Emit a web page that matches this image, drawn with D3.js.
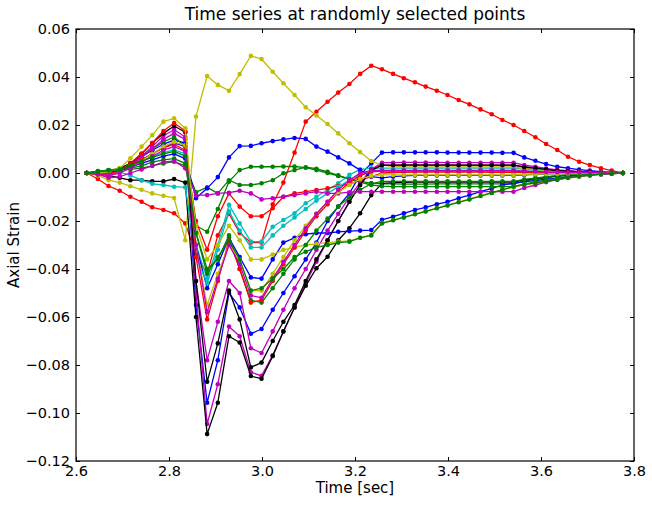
<!DOCTYPE html>
<html><head><meta charset="utf-8">
<script src="https://cdn.jsdelivr.net/npm/d3@7"></script>
<style>body{margin:0;background:#fff}svg{display:block}text{font-family:"DejaVu Sans",sans-serif}</style>
</head><body><svg id="c" width="652" height="505"></svg>
<script>
const times = [2.623,2.647,2.670,2.694,2.717,2.741,2.764,2.788,2.811,2.835,2.858,2.882,2.905,2.929,2.952,2.976,2.999,3.023,3.046,3.070,3.094,3.117,3.141,3.164,3.188,3.211,3.235,3.258,3.282,3.305,3.329,3.352,3.376,3.399,3.423,3.446,3.470,3.494,3.517,3.541,3.564,3.588,3.611,3.635,3.658,3.682,3.705,3.729,3.752,3.776];
const xTicks = [2.6,2.8,3.0,3.2,3.4,3.6,3.8];
const yTicks = [-0.12,-0.10,-0.08,-0.06,-0.04,-0.02,0.00,0.02,0.04,0.06];

const blueDeep = [0,0.0002,0.0005,0.0015,0.004,0.0068,0.0095,0.012,0.0137,0.0125, -0.055,-0.0957,-0.078,-0.050,-0.056,-0.067,-0.065,-0.057,-0.050,-0.043, -0.036,-0.029,-0.020,-0.014,-0.0085,-0.0008,0.004,0.0085,0.0086,0.0086, 0.0086,0.0086,0.0086,0.0085,0.0085,0.0085,0.0085,0.0085,0.0084,0.0084, 0.0065,0.0051,0.0037,0.0026,0.002,0.0014,0.001,0.0006,0.0003,0];
const greenA = [0,0.0005,0.001,0.002,0.004,0.007,0.01,0.013,0.015,0.011, -0.022,-0.0245,-0.015,-0.0036,0.0012,0.0026,0.0026,0.0026,0.0027,0.0027, 0.0022,0.0012,0.0,-0.0012,-0.0025,-0.0035,-0.0042,-0.0045,-0.0045,-0.0046, -0.0046,-0.0046,-0.0045,-0.0045,-0.0045,-0.0045,-0.0045,-0.0045,-0.0045,-0.0045, -0.0034,-0.0027,-0.002,-0.0014,-0.0011,-0.0007,-0.0005,-0.0003,-0.0002,0];
const redBig = [0,-0.0025,-0.0054,-0.0074,-0.0099,-0.012,-0.0143,-0.0154,-0.0168,-0.021, -0.034,-0.042,-0.026,-0.017,-0.025,-0.029,-0.029,-0.013,-0.004,0.0085, 0.0214,0.0255,0.0297,0.0335,0.0371,0.0413,0.0447,0.0432,0.0413,0.0395, 0.0378,0.036,0.0343,0.0325,0.0304,0.0286,0.0265,0.0245,0.0221,0.02, 0.0175,0.0149,0.0121,0.0096,0.0068,0.0047,0.0033,0.002,0.001,0];
const cyanA = [0,0.0008,0.0012,0.0015,0.003,0.005,0.007,0.0085,0.0096,0.008, -0.03,-0.044,-0.030,-0.0133,-0.021,-0.0286,-0.0286,-0.0224,-0.0196,-0.0168, -0.0126,-0.0099,-0.007,-0.0043,-0.0008,0.0015,0.002,0.002,0.002,0.002, 0.002,0.002,0.002,0.002,0.002,0.002,0.002,0.002,0.002,0.002, 0.0015,0.0012,0.0009,0.0006,0.0005,0.0003,0.0002,0.0001,0.0001,0];
const magentaDeep = [0,-0.0005,-0.001,0.0005,0.003,0.0065,0.01,0.014,0.0165,0.014, -0.05,-0.1046,-0.088,-0.064,-0.068,-0.083,-0.0845,-0.076,-0.066,-0.056, -0.046,-0.037,-0.028,-0.020,-0.012,-0.005,0.0015,0.0043,0.0043,0.0044, 0.0044,0.0044,0.0044,0.0043,0.0043,0.0043,0.0043,0.0043,0.0043,0.0043, 0.0033,0.0026,0.0019,0.0013,0.001,0.0007,0.0005,0.0003,0.0002,0];
const yellowBig = [0,-0.001,-0.003,-0.004,-0.0055,-0.007,-0.0085,-0.0095,-0.0104,-0.028, 0.0235,0.0404,0.0367,0.0343,0.0412,0.0488,0.0475,0.0422,0.0374,0.0325, 0.0274,0.024,0.0204,0.0165,0.0124,0.0087,0.005,0.0033,0.0028,0.0026, 0.0025,0.0025,0.0025,0.0025,0.0025,0.0025,0.0025,0.0025,0.0025,0.0025, 0.0019,0.0015,0.0011,0.0008,0.0006,0.0004,0.0003,0.0002,0.0001,0];
const blackDeep = [0,-0.0005,-0.001,-0.002,-0.003,-0.003,-0.0035,-0.0035,-0.0025,-0.004, -0.06,-0.1088,-0.0957,-0.068,-0.0706,-0.0846,-0.0857,-0.0763,-0.066,-0.056, -0.047,-0.0397,-0.0349,-0.028,-0.023,-0.0168,-0.0092,-0.0043,-0.004,-0.0039, -0.0038,-0.0038,-0.0038,-0.0038,-0.0038,-0.0038,-0.0038,-0.0038,-0.0038,-0.0038, -0.0029,-0.0023,-0.0017,-0.0012,-0.0009,-0.0006,-0.0005,-0.0003,-0.0001,0];
const blueMid = [0,0.0003,0.0006,0.0012,0.003,0.0055,0.008,0.0105,0.0125,0.011, -0.03,-0.048,-0.038,-0.027,-0.035,-0.0435,-0.044,-0.036,-0.029,-0.027, -0.0255,-0.025,-0.025,-0.0245,-0.0242,-0.024,-0.0238,-0.0195,-0.0182,-0.0168, -0.0154,-0.0143,-0.013,-0.012,-0.0105,-0.0092,-0.0078,-0.0064,-0.005,-0.0043, -0.0036,-0.0032,-0.0026,-0.0022,-0.0015,-0.001,-0.0007,-0.0004,-0.0001,0];
const greenB = [0,0.0008,0.0012,0.0012,0.0015,0.002,0.003,0.004,0.0047,0.003, -0.008,-0.006,-0.0085,-0.003,-0.005,-0.005,-0.0043,-0.003,-0.0001,0.0012, 0.0024,0.0018,0.0005,-0.001,-0.0025,-0.0038,-0.005,-0.0055,-0.0057,-0.0057, -0.0057,-0.0057,-0.0057,-0.0057,-0.0057,-0.0057,-0.0057,-0.0057,-0.0057,-0.0057, -0.0045,-0.0037,-0.003,-0.0024,-0.0018,-0.0012,-0.0008,-0.0005,-0.0002,0];
const redMod = [0,-0.0003,0.0,0.001,0.003,0.0055,0.008,0.0105,0.012,0.0095, -0.02,-0.032,-0.018,-0.0085,-0.014,-0.018,-0.018,-0.0147,-0.0099,-0.0085, -0.0078,-0.0071,-0.0064,-0.0054,-0.0046,-0.003,-0.0015,0.0,0.0002,0.0003, 0.0004,0.0004,0.0004,0.0004,0.0004,0.0004,0.0004,0.0003,0.0003,0.0003, 0.0002,0.0002,0.0001,0.0001,0.0001,0.0,0.0,0.0,0.0,0];
const cyanB = [0,0.0005,0.001,0.0005,-0.001,-0.003,-0.0045,-0.005,-0.0057,-0.006, -0.035,-0.046,-0.032,-0.016,-0.024,-0.031,-0.031,-0.026,-0.022,-0.0185, -0.015,-0.0115,-0.0085,-0.0058,-0.003,-0.0005,0.001,0.0012,0.0012,0.0012, 0.0012,0.0012,0.0012,0.0012,0.0012,0.0012,0.0012,0.0012,0.0012,0.0012, 0.0009,0.0007,0.0005,0.0004,0.0003,0.0002,0.0001,0.0001,0.0,0];
const magentaB = [0,0.0,-0.0005,0.001,0.0035,0.007,0.011,0.0155,0.018,0.015, -0.045,-0.078,-0.062,-0.045,-0.050,-0.073,-0.075,-0.066,-0.057,-0.048, -0.040,-0.032,-0.024,-0.017,-0.010,-0.004,0.0015,0.0033,0.0033,0.0034, 0.0034,0.0034,0.0034,0.0034,0.0033,0.0033,0.0033,0.0033,0.0033,0.0033, 0.0025,0.002,0.0015,0.001,0.0008,0.0005,0.0004,0.0002,0.0001,0];
const yellowLow = [0,-0.0005,-0.001,0.0,0.0025,0.005,0.008,0.011,0.013,0.0115, -0.022,-0.036,-0.030,-0.022,-0.028,-0.036,-0.036,-0.034,-0.032,-0.031, -0.030,-0.0295,-0.029,-0.0286,-0.0283,-0.027,-0.0258,-0.0208,-0.0196,-0.0184, -0.0171,-0.0159,-0.0146,-0.0134,-0.0121,-0.0108,-0.0095,-0.0082,-0.007,-0.0058, -0.0049,-0.0042,-0.0035,-0.0028,-0.0021,-0.0015,-0.001,-0.0006,-0.0003,0];
const blackB = [0,0.0,0.0005,0.0015,0.004,0.008,0.0125,0.0165,0.0196,0.017, -0.045,-0.087,-0.071,-0.049,-0.061,-0.081,-0.079,-0.070,-0.062,-0.055, -0.045,-0.036,-0.028,-0.020,-0.012,-0.005,0.001,0.0033,0.0033,0.0033, 0.0033,0.0033,0.0033,0.0033,0.0033,0.0033,0.0033,0.0033,0.0033,0.0033, 0.0025,0.002,0.0015,0.001,0.0008,0.0005,0.0004,0.0002,0.0001,0];
const blueUpper = [0,0.0003,0.0005,0.001,0.0025,0.004,0.0055,0.007,0.008,0.006, -0.0105,-0.0064,-0.0017,0.0065,0.0112,0.0113,0.0124,0.0133,0.014,0.0146, 0.0142,0.011,0.0089,0.0065,0.004,0.0012,-0.0015,-0.002,-0.0015,-0.0012, -0.001,-0.001,-0.001,-0.001,-0.001,-0.001,-0.001,-0.001,-0.001,-0.001, -0.0008,-0.0006,-0.0004,-0.0003,-0.0002,-0.0002,-0.0001,-0.0001,0,0];
const greenC = [0,0.0005,0.001,0.0012,0.002,0.003,0.0045,0.0055,0.006,0.004, -0.025,-0.040,-0.036,-0.026,-0.040,-0.053,-0.054,-0.048,-0.042,-0.036, -0.030,-0.024,-0.019,-0.014,-0.010,-0.007,-0.0045,-0.0035,-0.0035,-0.0035, -0.0035,-0.0035,-0.0035,-0.0035,-0.0035,-0.0035,-0.0035,-0.0035,-0.0035,-0.0035, -0.0027,-0.0021,-0.0015,-0.0011,-0.0008,-0.0006,-0.0004,-0.0002,-0.0001,0];
const redC = [0,0.0,-0.0005,0.001,0.004,0.008,0.0125,0.0175,0.0208,0.0175, -0.035,-0.061,-0.045,-0.028,-0.040,-0.054,-0.053,-0.045,-0.038,-0.031, -0.024,-0.018,-0.013,-0.008,-0.004,-0.001,0.0005,0.0008,0.0008,0.0008, 0.0008,0.0008,0.0008,0.0008,0.0008,0.0008,0.0008,0.0008,0.0008,0.0008, 0.0006,0.0005,0.0004,0.0003,0.0002,0.0002,0.0001,0.0001,0,0];
const magentaFlat = [0,-0.0005,-0.002,-0.0015,0.0,0.0015,0.003,0.0045,0.005,0.002, -0.0092,-0.0092,-0.0085,-0.0082,-0.0074,-0.0085,-0.011,-0.0105,-0.0099,-0.0092, -0.0085,-0.0078,-0.0085,-0.0085,-0.008,-0.0078,-0.0078,-0.0078,-0.0078,-0.0078, -0.0078,-0.0078,-0.0078,-0.0078,-0.0078,-0.0078,-0.0078,-0.0078,-0.0078,-0.0078, -0.0062,-0.005,-0.0038,-0.0028,-0.002,-0.0014,-0.001,-0.0006,-0.0003,0];
const yellowB = [0,0.0,0.0005,0.002,0.0061,0.011,0.0158,0.0214,0.0228,0.0186, -0.03,-0.055,-0.042,-0.030,-0.036,-0.049,-0.049,-0.042,-0.035,-0.028, -0.022,-0.017,-0.012,-0.008,-0.005,-0.0025,-0.0012,-0.0008,-0.0008,-0.0008, -0.0008,-0.0008,-0.0008,-0.0008,-0.0008,-0.0008,-0.0008,-0.0008,-0.0008,-0.0008, -0.0006,-0.0005,-0.0004,-0.0003,-0.0002,-0.0002,-0.0001,-0.0001,0,0];
const magentaC = [0,-0.0005,-0.001,0.0,0.002,0.0045,0.007,0.0095,0.011,0.009, -0.03,-0.058,-0.044,-0.030,-0.038,-0.051,-0.052,-0.044,-0.037,-0.030, -0.023,-0.017,-0.012,-0.007,-0.003,0.0,0.001,0.001,0.001,0.001, 0.001,0.001,0.001,0.001,0.001,0.001,0.001,0.001,0.001,0.001, 0.0008,0.0006,0.0004,0.0003,0.0002,0.0002,0.0001,0.0001,0,0];
const greenLow = [0,0.0005,0.001,0.0015,0.003,0.005,0.0065,0.008,0.009,0.007, -0.025,-0.042,-0.035,-0.028,-0.036,-0.049,-0.048,-0.044,-0.040,-0.035, -0.0328,-0.031,-0.030,-0.029,-0.0286,-0.027,-0.026,-0.021,-0.0197,-0.0185, -0.0172,-0.016,-0.0147,-0.0135,-0.0122,-0.011,-0.0096,-0.0083,-0.007,-0.0057, -0.0048,-0.0041,-0.0034,-0.0027,-0.002,-0.0014,-0.0009,-0.0005,-0.0002,0];

const seriesValues = [blueDeep, greenA, redBig, cyanA, magentaDeep, yellowBig, blackDeep,
  blueMid, greenB, redMod, cyanB, magentaB, yellowLow, blackB,
  blueUpper, greenC, redC, magentaFlat, yellowB, magentaC, greenLow];
const seriesColors = ["#0000ff","#008000","#ff0000","#00bfbf","#bf00bf","#bfbf00","#000000",
  "#0000ff","#008000","#ff0000","#00bfbf","#bf00bf","#bfbf00","#000000",
  "#0000ff","#008000","#ff0000","#bf00bf","#bfbf00","#bf00bf","#008000"];

const svg = d3.select("#c");
const L = 76, R = 634, T = 29, B = 461;
const x = d3.scaleLinear().domain([2.6, 3.8]).range([L, R]);
const y = d3.scaleLinear().domain([-0.12, 0.06]).range([B, T]);

svg.append("defs").append("clipPath").attr("id","pc")
  .append("rect").attr("x", L).attr("y", T).attr("width", R-L).attr("height", B-T);

const plot = svg.append("g").attr("clip-path","url(#pc)");
const line = d3.line().x((d,i)=>x(times[i])).y(d=>y(d));
seriesValues.forEach((vals, k) => {
  const g = plot.append("g");
  g.append("path").attr("d", line(vals)).attr("fill","none")
    .attr("stroke", seriesColors[k]).attr("stroke-width", 1.3).attr("stroke-linejoin","round");
  g.selectAll("circle").data(vals).join("circle")
    .attr("cx",(d,i)=>x(times[i])).attr("cy",d=>y(d)).attr("r",2.3)
    .attr("fill", seriesColors[k]);
});

const fx = d3.format(".1f"), fy = d3.format(".2f");
const ax = svg.append("g").attr("transform",`translate(0,${B})`)
  .call(d3.axisBottom(x).tickValues(xTicks).tickFormat(fx).tickSize(-4).tickPadding(5));
const axT = svg.append("g").attr("transform",`translate(0,${T})`)
  .call(d3.axisTop(x).tickValues(xTicks).tickFormat("").tickSize(-4));
const ay = svg.append("g").attr("transform",`translate(${L},0)`)
  .call(d3.axisLeft(y).tickValues(yTicks).tickFormat(fy).tickSize(-4).tickPadding(6));
const ayR = svg.append("g").attr("transform",`translate(${R},0)`)
  .call(d3.axisRight(y).tickValues(yTicks).tickFormat("").tickSize(-4));
[ax, axT, ay, ayR].forEach(a => { a.select(".domain").remove(); a.selectAll("line").attr("stroke","#000"); a.selectAll("text").attr("font-size",14.5).attr("fill","#000").attr("font-family","DejaVu Sans"); });

svg.append("rect").attr("x",L).attr("y",T).attr("width",R-L).attr("height",B-T)
  .attr("fill","none").attr("stroke","#000").attr("stroke-width",1.2);

svg.append("text").attr("x",(L+R)/2).attr("y",20).attr("text-anchor","middle")
  .attr("font-size",17).text("Time series at randomly selected points");
svg.append("text").attr("x",(L+R)/2).attr("y",493).attr("text-anchor","middle")
  .attr("font-size",15).text("Time [sec]");
svg.append("text").attr("transform",`translate(19,${(T+B)/2}) rotate(-90)`).attr("text-anchor","middle")
  .attr("font-size",15).text("Axial Strain");
</script></body></html>
